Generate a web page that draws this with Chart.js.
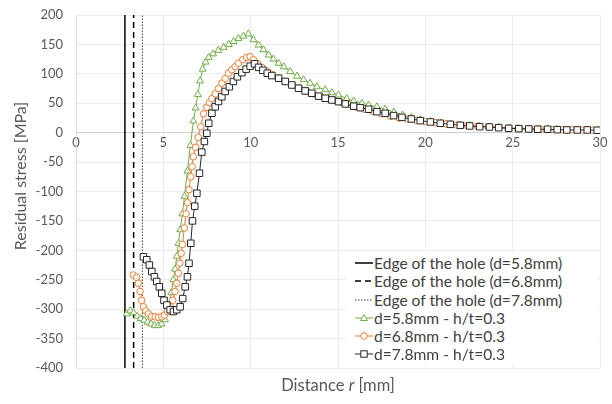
<!DOCTYPE html>
<html>
<head>
<meta charset="utf-8">
<script src="https://cdn.jsdelivr.net/npm/chart.js@4.4.1/dist/chart.umd.min.js"></script>
<style>
    body { margin: 0; background: #fff; }
    #wrap { position: relative; width: 612px; height: 404px; font-family: Lato, 'Open Sans', sans-serif; }
    #chart { position: absolute; left: 0; top: 0; }
    #legend { position: absolute; left: 346px; top: 252px; width: 252px; height: 114px; background: #fff; }
    .row { position: absolute; left: 8px; height: 18px; display: flex; align-items: center; font-size: 15.6px; color: #404040; white-space: nowrap; }
    #xTitle { position: absolute; left: 238px; top: 375px; width: 200px; text-align: center; font-size: 16.5px; color: #595959; }
    #yTitle { position: absolute; left: -80px; top: 166px; width: 200px; height: 20px; line-height: 20px; text-align: center;
              font-size: 16px; color: #595959; transform: rotate(-90deg); }
</style>
</head>
<body>
<div id="wrap">
    <canvas id="chart" width="612" height="404"></canvas>
    <div id="legend"></div>
    <div id="xTitle">Distance <i>r</i> [mm]</div>
    <div id="yTitle">Residual stress [MPa]</div>
</div>
<script>
// Axis limits / ticks
const xMin = 0, xMax = 30, xStep = 5;
const yMin = -400, yMax = 200, yStep = 50;

// Edge of the hole, radius [mm]
const edgeR = [2.8, 3.3, 3.8];
const edgeLabels = ['Edge of the hole (d=5.8mm)', 'Edge of the hole (d=6.8mm)', 'Edge of the hole (d=7.8mm)'];

// d=5.8mm - h/t=0.3
const r58 = [2.9, 3.1, 3.3, 3.5, 3.7, 3.9, 4.1, 4.3, 4.5, 4.7,
    4.9, 5.1, 5.22, 5.34, 5.46, 5.57, 5.67, 5.77, 5.87, 5.97,
    6.09, 6.21, 6.38, 6.55, 6.72, 6.85, 6.98, 7.1, 7.25, 7.42,
    7.6, 7.85, 8.15, 8.45, 8.75, 9.02, 9.3, 9.58, 9.87, 10.16,
    10.45, 10.73, 11.02, 11.3, 11.6, 11.9, 12.26, 12.65, 13.03, 13.4,
    13.79, 14.27, 14.65, 15.03, 15.5, 15.9, 16.37, 16.75, 17.23, 17.7,
    18.2, 18.7, 19.2, 19.7, 20.3, 20.9, 21.45, 22, 22.55, 23.1,
    23.65, 24.2, 24.75, 25.3, 25.9, 26.45, 27, 27.55, 28.1, 28.7,
    29.3, 29.85];
const s58 = [-308, -303, -306, -312, -316, -319, -322, -325, -328, -328,
    -325, -318, -306, -292, -272, -250, -232, -210, -188, -165,
    -138, -108, -65, -22, 20, 42, 65, 88, 108, 120,
    128, 134, 140, 145, 150, 155, 160, 164, 168, 158,
    149, 141, 132, 125, 118, 112, 104, 96, 90, 84,
    78, 73, 68, 64, 58, 54, 50, 47, 44, 40,
    35, 30, 26, 22, 19, 16.5, 14.5, 13, 11.8, 10.6,
    9.8, 8.8, 7.6, 7, 6.4, 6, 5.8, 5.2, 4.8, 4.7,
    4.6, 4.2];

// d=6.8mm - h/t=0.3
const r68 = [3.28, 3.47, 3.57, 3.67, 3.76, 3.86, 3.99, 4.15, 4.34, 4.53,
    4.72, 4.91, 5.06, 5.23, 5.39, 5.54, 5.67, 5.77, 5.86, 5.94,
    6.02, 6.1, 6.2, 6.3, 6.38, 6.47, 6.57, 6.65, 6.72, 6.85,
    7.0, 7.14, 7.3, 7.49, 7.64, 7.78, 7.97, 8.16, 8.35, 8.54,
    8.73, 8.92, 9.11, 9.3, 9.55, 9.78, 9.97, 10.16, 10.4, 10.65,
    10.9, 11.2, 11.6, 12.0, 12.4, 12.8, 13.2, 13.6, 14.0, 14.4,
    14.8, 15.2, 15.6, 16.0, 16.5, 17.0, 17.5, 18.0, 18.5, 19.0,
    19.5, 20.0, 20.6, 21.2, 21.8, 22.4, 23.0, 23.6, 24.2, 24.8,
    25.4, 26.0, 26.6, 27.2, 27.8, 28.4, 29.0, 29.6];
const s68 = [-242, -246, -256, -270, -285, -296, -303, -308, -312, -313,
    -314, -313, -310, -304, -296, -285, -270, -256, -239, -222,
    -205, -190, -162, -138, -119, -97, -75, -58, -41, -25,
    -8, 10, 32, 43, 51, 58, 66, 75, 84, 92,
    101, 107, 112, 118, 124, 128, 129, 124, 117, 111,
    105, 99, 93, 87, 81, 76, 71, 66, 62, 58,
    55, 51, 48, 44, 40, 36, 32, 28, 25, 23,
    21, 19, 17, 15, 13, 12, 11, 10, 9, 8,
    7, 6.5, 6, 5.5, 5, 5, 4.5, 4.5];

// d=7.8mm - h/t=0.3
const r78 = [3.86, 4.05, 4.2, 4.34, 4.49, 4.62, 4.77, 4.91, 5.04, 5.2,
    5.39, 5.58, 5.77, 5.96, 6.11, 6.25, 6.38, 6.47, 6.57, 6.67,
    6.8, 6.92, 7.07, 7.2, 7.35, 7.49, 7.6, 7.78, 7.97, 8.16,
    8.35, 8.54, 8.78, 9.01, 9.24, 9.5, 9.74, 9.97, 10.22, 10.45,
    10.7, 10.95, 11.21, 11.6, 11.98, 12.36, 12.74, 13.12, 13.5, 13.89,
    14.27, 14.65, 15.03, 15.42, 15.9, 16.27, 16.75, 17.23, 17.7, 18.18,
    18.66, 19.2, 19.71, 20.29, 20.86, 21.43, 22, 22.54, 23.11, 23.67,
    24.2, 24.77, 25.35, 25.92, 26.43, 27, 27.55, 28.1, 28.7, 29.27,
    29.84];
const s78 = [-211, -216, -225, -236, -245, -253, -262, -273, -285, -293,
    -301, -304, -301, -296, -282, -262, -245, -222, -188, -150,
    -125, -103, -69, -33, -15, -1, 16, 33, 44, 53,
    61, 70, 78, 87, 95, 102, 108, 113, 117, 111,
    106, 101, 97, 92.5, 87, 81, 75.5, 71, 67, 62,
    58.5, 55.6, 52.7, 48.8, 45, 42.5, 39.8, 35.7, 33, 29,
    26, 23.3, 20.4, 18.2, 16, 14.2, 12.5, 11.4, 10.2, 9.7,
    8.5, 7.4, 6.8, 6.3, 5.8, 5.8, 5.1, 4.6, 4.6, 4.6,
    4.1];

const seriesLabels = ['d=5.8mm - h/t=0.3', 'd=6.8mm - h/t=0.3', 'd=7.8mm - h/t=0.3'];

function toPoints(xs, ys) {
    return xs.map((x, i) => ({ x: x, y: ys[i] }));
}

const edgeStyles = [
    { color: '#000000', width: 1.5, dash: [] },
    { color: '#000000', width: 1.5, dash: [6, 4] },
    { color: '#404040', width: 1, dash: [1.5, 1.5] }
];

const seriesStyles = [
    { color: '#70AD47', shape: 'triangle', radius: 4 },
    { color: '#ED7D31', shape: 'circle', radius: 3.3 },
    { color: '#262626', shape: 'rect', radius: 4.6 }
];

const seriesData = [toPoints(r58, s58), toPoints(r68, s68), toPoints(r78, s78)];

const datasets = [];
// black squares on top, then orange, then green (first dataset is drawn last)
[2, 1, 0].forEach(i => {
    const st = seriesStyles[i];
    datasets.push({
        label: seriesLabels[i],
        data: seriesData[i],
        borderColor: st.color,
        borderWidth: 1,
        pointStyle: st.shape,
        pointRadius: st.radius,
        pointBorderColor: st.color,
        pointBorderWidth: 1,
        pointBackgroundColor: '#ffffff',
        tension: 0
    });
});
edgeR.forEach((r, i) => {
    const st = edgeStyles[i];
    datasets.push({
        label: edgeLabels[i],
        data: [{ x: r, y: yMin }, { x: r, y: yMax }],
        borderColor: st.color,
        borderWidth: st.width,
        borderDash: st.dash,
        pointRadius: 0
    });
});

const tickFont = { family: 'Lato', size: 13 };

new Chart(document.getElementById('chart').getContext('2d'), {
    type: 'line',
    data: { datasets: datasets },
    options: {
        responsive: false,
        animation: false,
        devicePixelRatio: 1,
        layout: { padding: { left: 0, right: 12, top: 15, bottom: 36 } },
        plugins: { legend: { display: false }, tooltip: { enabled: false } },
        scales: {
            x: {
                type: 'linear',
                position: { y: 0 },
                min: xMin, max: xMax,
                ticks: { stepSize: xStep, color: '#595959', font: tickFont, padding: 2, maxRotation: 0 },
                grid: { color: '#ececec', drawTicks: false },
                border: { color: '#d0d0d0' }
            },
            y: {
                type: 'linear',
                min: yMin, max: yMax,
                ticks: { stepSize: yStep, color: '#595959', font: tickFont, padding: 13 },
                grid: { color: '#ececec', drawTicks: false },
                border: { color: '#d9d9d9' },
                afterFit: s => {
                    s.width = 76;
                    // label padding should not push the plot area down
                    s.paddingTop = 0;
                    s.paddingBottom = 0;
                }
            }
        }
    }
});

// Legend (bottom right, inside plot)
function sampleSvg(kind, idx) {
    let s = '<svg width="20" height="12" viewBox="0 0 20 12">';
    if (kind === 'edge') {
        const st = edgeStyles[idx];
        s += `<line x1="1" y1="6" x2="19" y2="6" stroke="${st.color}" stroke-width="${st.width}" stroke-dasharray="${st.dash.join(' ')}"/>`;
    } else {
        const st = seriesStyles[idx];
        s += `<line x1="1" y1="6" x2="19" y2="6" stroke="${st.color}" stroke-width="1"/>`;
        if (st.shape === 'triangle') s += `<polygon points="10,2.5 13.5,8.5 6.5,8.5" fill="#fff" stroke="${st.color}"/>`;
        if (st.shape === 'circle') s += `<circle cx="10" cy="6" r="3.3" fill="#fff" stroke="${st.color}"/>`;
        if (st.shape === 'rect') s += `<rect x="6.8" y="2.8" width="6.4" height="6.4" fill="#fff" stroke="${st.color}"/>`;
    }
    return s + '</svg>';
}

const legendEl = document.getElementById('legend');
const rowTops = [2, 20, 39, 57, 75, 93];
const rows = edgeLabels.map((t, i) => ({ kind: 'edge', idx: i, text: t }))
    .concat(seriesLabels.map((t, i) => ({ kind: 'series', idx: i, text: t })));
rows.forEach((row, i) => {
    const div = document.createElement('div');
    div.className = 'row';
    div.style.top = rowTops[i] + 'px';
    div.innerHTML = sampleSvg(row.kind, row.idx) + '<span>' + row.text + '</span>';
    legendEl.appendChild(div);
});
</script>
</body>
</html>
